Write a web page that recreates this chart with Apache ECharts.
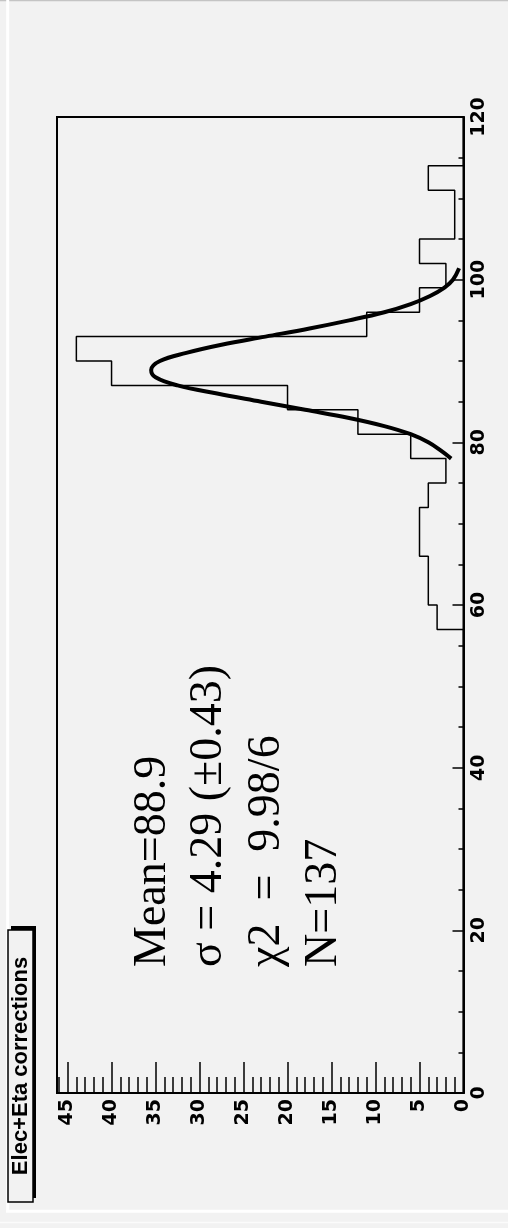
<!DOCTYPE html>
<html>
<head>
<meta charset="utf-8">
<script src="https://cdn.jsdelivr.net/npm/echarts@6/dist/echarts.min.js"></script>
<style>
html,body{margin:0;padding:0;background:#f2f2f2;}
#c{width:508px;height:1228px;}
</style>
</head>
<body>
<div id="c"></div>
<script>
// Histogram: bin lower edges (width 3) and counts
const binWidth = 3;
const binLow = [0,3,6,9,12,15,18,21,24,27,30,33,36,39,42,45,48,51,54,57,
                60,63,66,69,72,75,78,81,84,87,90,93,96,99,102,105,108,111,114,117];
const counts = [0,0,0,0,0,0,0,0,0,0,0,0,0,0,0,0,0,0,0,3,
                4,4,5,5,4,2,6,12,20,40,44,11,5,2,5,1,1,4,0,0];
// Gaussian fit curve
const fitX = [78,79,80,81,82,83,84,85,86,87,88,88.9,90,91,92,93,94,95,96,97,98,99,100,101.4];
const fitY = [1.4,2.6,4.0,6.0,9.0,13.0,18.0,23.0,28.0,32.5,35.0,35.5,34.5,31.5,27.5,22.5,17.5,13.0,9.0,6.0,3.8,2.2,1.2,0.5];
// Axis ticks
const countTicks = [0,5,10,15,20,25,30,35,40,45];
const valueTicks = [0,20,40,60,80,100,120];
const title = 'Elec+Eta corrections';
const statLines = ['Mean=88.9', 'σ = 4.29 (±0.43)', 'χ2  =  9.98/6', 'N=137'];

const histPts = [[0, binLow[0]]];
for (let i = 0; i < binLow.length; i++) {
  histPts.push([counts[i], binLow[i]]);
  histPts.push([counts[i], binLow[i] + binWidth]);
}
histPts.push([0, binLow[binLow.length - 1] + binWidth]);
const fitPts = fitX.map((x, i) => [fitY[i], x]);

const chart = echarts.init(document.getElementById('c'), null, {renderer: 'canvas'});
const bg = '#f2f2f2';
const tickFont = {color: '#000', fontFamily: 'DejaVu Sans', fontWeight: 'bold', fontSize: 19};
const statBaseX = [153, 209, 267, 324];

const graphics = [
  {type: 'line', shape: {x1: 0, y1: 0.5, x2: 508, y2: 0.5}, style: {stroke: '#c4c4c4', lineWidth: 1.5}, silent: true},
  {type: 'line', shape: {x1: 7.7, y1: 0, x2: 7.7, y2: 1212}, style: {stroke: '#ffffff', lineWidth: 3}, silent: true},
  {type: 'line', shape: {x1: 6, y1: 1211.3, x2: 508, y2: 1211.3}, style: {stroke: '#ffffff', lineWidth: 3}, silent: true},
  {type: 'line', shape: {x1: 0, y1: 1222.5, x2: 508, y2: 1222.5}, style: {stroke: '#fbfbfb', lineWidth: 1.5}, silent: true},
  {type: 'rect', shape: {x: 11, y: 926, width: 25, height: 272}, style: {fill: '#000'}, silent: true, z: 10},
  {type: 'rect', shape: {x: 8, y: 930, width: 25, height: 272}, style: {fill: bg, stroke: '#000', lineWidth: 1.5}, silent: true, z: 11},
  {type: 'text', x: 21, y: 1066, rotation: Math.PI / 2, z: 12,
   style: {text: title, fill: '#000', font: 'bold 22px "Liberation Sans", Arial, sans-serif', align: 'center', verticalAlign: 'middle'}}
];
statLines.forEach((t, i) => {
  graphics.push({type: 'text', x: statBaseX[i], y: 967, rotation: Math.PI / 2, z: 12,
    style: {text: t, fill: '#000', font: '46px "Liberation Serif", "Times New Roman", serif', align: 'left', verticalAlign: 'middle'}});
});

chart.setOption({
  animation: false,
  backgroundColor: bg,
  grid: {left: 57, right: 44.5, top: 117, bottom: 135, show: true, borderColor: '#000', borderWidth: 2, backgroundColor: 'transparent'},
  xAxis: {
    type: 'value', min: 0, max: 46.2, interval: 5, inverse: true, position: 'bottom',
    axisLine: {show: true, onZero: false, lineStyle: {color: '#000', width: 2}},
    axisTick: {show: true, inside: true, length: 31, lineStyle: {color: '#000', width: 1.5}},
    minorTick: {show: true, splitNumber: 5, length: 16, lineStyle: {color: '#000', width: 1.5}},
    splitLine: {show: false}, minorSplitLine: {show: false},
    axisLabel: Object.assign({rotate: 90, margin: 6, showMaxLabel: false,
      formatter: v => countTicks.indexOf(v) >= 0 ? String(v) : ''}, tickFont)
  },
  yAxis: {
    type: 'value', min: 0, max: 120, interval: 20, position: 'right',
    axisLine: {show: true, onZero: false, lineStyle: {color: '#000', width: 2}},
    axisTick: {show: true, inside: true, length: 11, lineStyle: {color: '#000', width: 1.5}},
    minorTick: {show: true, splitNumber: 4, length: 5, lineStyle: {color: '#000', width: 1.5}},
    splitLine: {show: false}, minorSplitLine: {show: false},
    axisLabel: Object.assign({rotate: 90, margin: 6,
      formatter: v => valueTicks.indexOf(v) >= 0 ? String(v) : ''}, tickFont)
  },
  series: [
    {type: 'line', data: histPts, showSymbol: false, symbol: 'none', lineStyle: {color: '#000', width: 1.5}, z: 3},
    {type: 'line', data: fitPts, showSymbol: false, symbol: 'none', smooth: 0.4, lineStyle: {color: '#000', width: 4}, z: 4}
  ],
  graphic: graphics
});
</script>
</body>
</html>
